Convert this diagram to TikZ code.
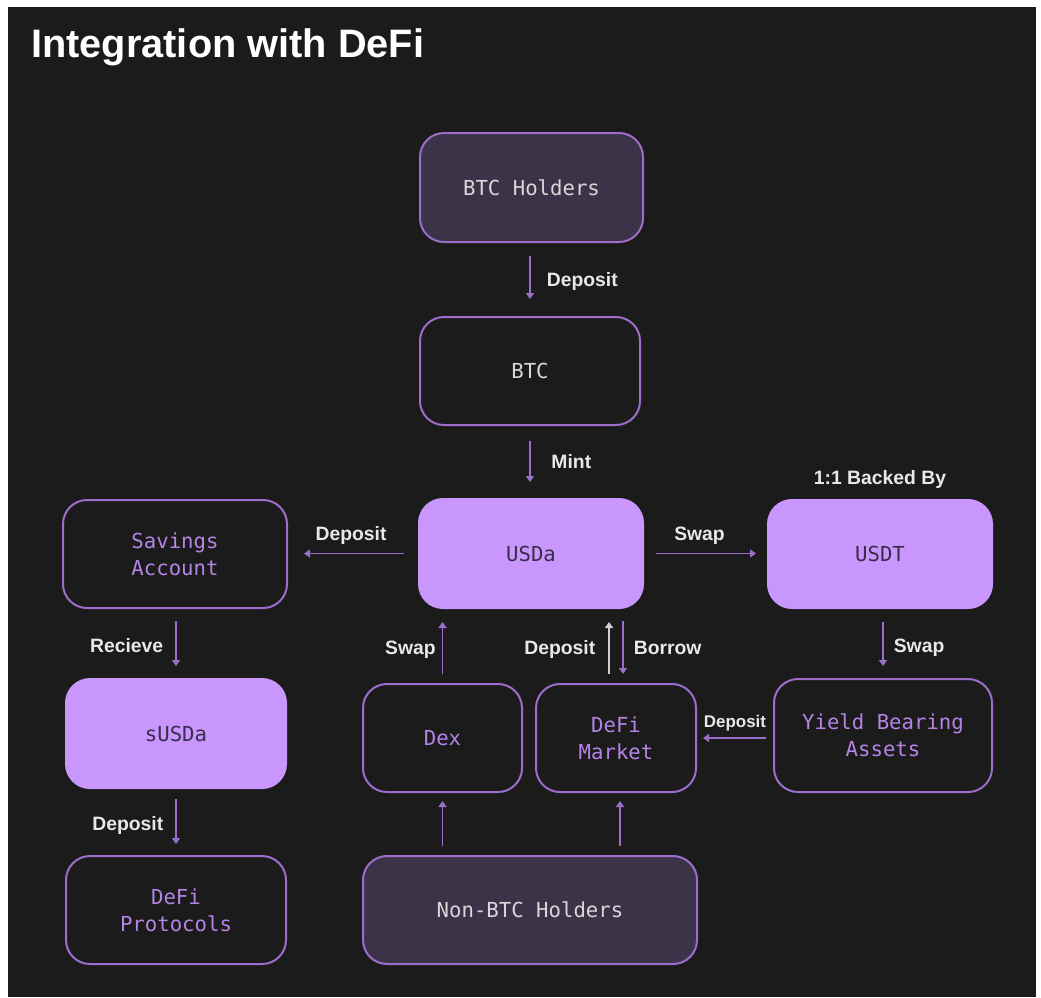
\documentclass[tikz,border=0pt]{standalone}
\usepackage{fontspec}
\setmainfont{Liberation Sans}
\setmonofont{DejaVu Sans Mono}
\usetikzlibrary{arrows.meta,calc}
\definecolor{bg}{HTML}{1B1B1B}
\definecolor{pur}{HTML}{9C6DCB}
\definecolor{lightpur}{HTML}{C896FD}
\definecolor{darkpur}{HTML}{3D3349}
\definecolor{txtpur}{HTML}{B584E6}
\definecolor{txtgrey}{HTML}{D8D8D8}
\definecolor{txtdark}{HTML}{3A2C4A}
\definecolor{lblc}{HTML}{E8E8E8}
\definecolor{greyarr}{HTML}{D0D0D0}
\begin{document}
\begin{tikzpicture}[x=0.75pt,y=-0.75pt,
  box/.style={draw=pur, line width=1.5pt, rounded corners=18pt, align=center,
    font=\fontsize{15.5}{20}\selectfont\ttfamily, inner sep=0pt},
  sz/.style 2 args={minimum width={#1*0.75pt}, minimum height={#2*0.75pt}},
  darkbox/.style={box, fill=darkpur, text=txtgrey},
  plainbox/.style={box, fill=bg, text=txtpur},
  greybox/.style={box, fill=bg, text=txtgrey},
  litebox/.style={box, fill=lightpur, draw=lightpur, text=txtdark},
  arr/.style={line width=1.2pt, draw=pur, -{Triangle[width=6pt,length=4.5pt]}},
  lbl/.style={font=\fontsize{14.5}{17}\selectfont\bfseries, text=lblc, inner sep=0pt},
  smlbl/.style={font=\fontsize{12.7}{15}\selectfont\bfseries, text=lblc, inner sep=0pt},
  titlestyle/.style={font=\fontsize{29.8}{34}\selectfont\bfseries, text=white, inner sep=0pt},
]
\useasboundingbox (0,0) rectangle (1041,997);
\fill[white] (0,0) rectangle (1041,997);
\fill[bg] (8,7) rectangle (1036,997);

\node[titlestyle, anchor=base west] (title) at (31,57) {Integration with DeFi};

% nodes
\node[darkbox, sz={223}{109}] (btch) at (531.5,187.5) {BTC Holders};
\node[greybox, sz={220}{108}] (btc) at (530,371) {BTC};
\node[litebox, sz={224}{109}] (usda) at (531,553.5) {USDa};
\node[plainbox, sz={224}{108}] (sav) at (175,554) {Savings\\Account};
\node[litebox, sz={224}{108}] (usdt) at (880,554) {USDT};
\node[litebox, sz={220}{109}] (susda) at (176,733.5) {sUSDa};
\node[plainbox, sz={159}{108}] (dex) at (442.5,738) {Dex};
\node[plainbox, sz={160}{108}] (dm) at (616,738) {DeFi\\Market};
\node[plainbox, sz={218}{113}] (yba) at (883,735.5) {Yield Bearing\\Assets};
\node[plainbox, sz={220}{108}] (dfp) at (176,910) {DeFi\\Protocols};
\node[darkbox, sz={334}{108}] (nbtc) at (530,910) {Non-BTC Holders};

\node[lbl, anchor=base, yshift=11.25pt] (backed) at (usdt.north) {1:1 Backed By};

% connectors
\draw[arr, shorten <=9.75pt, shorten >=12.75pt] (btc.north |- btch.south) -- (btc.north)
  node[lbl, midway, anchor=base west, xshift=12pt, yshift=-5.6pt] {Deposit};
\draw[arr, shorten <=11.25pt, shorten >=12pt] (btc.south) -- (btc.south |- usda.north)
  node[lbl, midway, anchor=base west, xshift=15.5pt, yshift=-4.9pt] {Mint};
\draw[arr, shorten <=10.5pt, shorten >=12pt] (usda.west) -- (sav.east |- usda.west)
  node[lbl, midway, anchor=base, xshift=-1.5pt, yshift=9.75pt] {Deposit};
\draw[arr, shorten <=9pt, shorten >=8.25pt] (usda.east) -- (usdt.west |- usda.east)
  node[lbl, midway, anchor=base, xshift=-4.5pt, yshift=9.75pt] {Swap};
\draw[arr, shorten <=9pt, shorten >=9pt] (susda.north |- sav.south) -- (susda.north)
  node[lbl, midway, anchor=base east, xshift=-9pt, yshift=-7pt] {Recieve};
\draw[arr, shorten <=7.5pt, shorten >=8.25pt] (susda.south) -- (dfp.north)
  node[lbl, midway, anchor=base east, xshift=-9pt, yshift=-6.4pt] {Deposit};
\draw[arr, shorten <=6.75pt, shorten >=9.75pt] (dex.north) -- (dex.north |- usda.south)
  node[lbl, midway, anchor=base east, xshift=-4.5pt, yshift=-6pt] {Swap};
\draw[arr, draw=greyarr, shorten <=6.75pt, shorten >=9.75pt] ($(dm.north)+(-7,0)$) -- ($(dm.north |- usda.south)+(-7,0)$)
  node[lbl, midway, anchor=base east, xshift=-9.75pt, yshift=-6pt] {Deposit};
\draw[arr, shorten <=9pt, shorten >=6.75pt] ($(dm.north |- usda.south)+(7,0)$) -- ($(dm.north)+(7,0)$)
  node[lbl, midway, anchor=base west, xshift=7.5pt, yshift=-6.4pt] {Borrow};
\draw[arr, shorten <=9.75pt, shorten >=9pt] (yba.north |- usdt.south) -- (yba.north)
  node[lbl, midway, anchor=base west, xshift=7.5pt, yshift=-6.75pt] {Swap};
\draw[arr, shorten <=5.25pt, shorten >=4.5pt] (yba.west |- dm.east) -- (dm.east)
  node[smlbl, midway, anchor=base, yshift=8.25pt] {Deposit};
\draw[arr, shorten <=6.75pt, shorten >=6pt] (dex.south |- nbtc.north) -- (dex.south);
\draw[arr, shorten <=6.75pt, shorten >=6pt] ($(dm.south |- nbtc.north)+(4,0)$) -- ($(dm.south)+(4,0)$);
\end{tikzpicture}
\end{document}
